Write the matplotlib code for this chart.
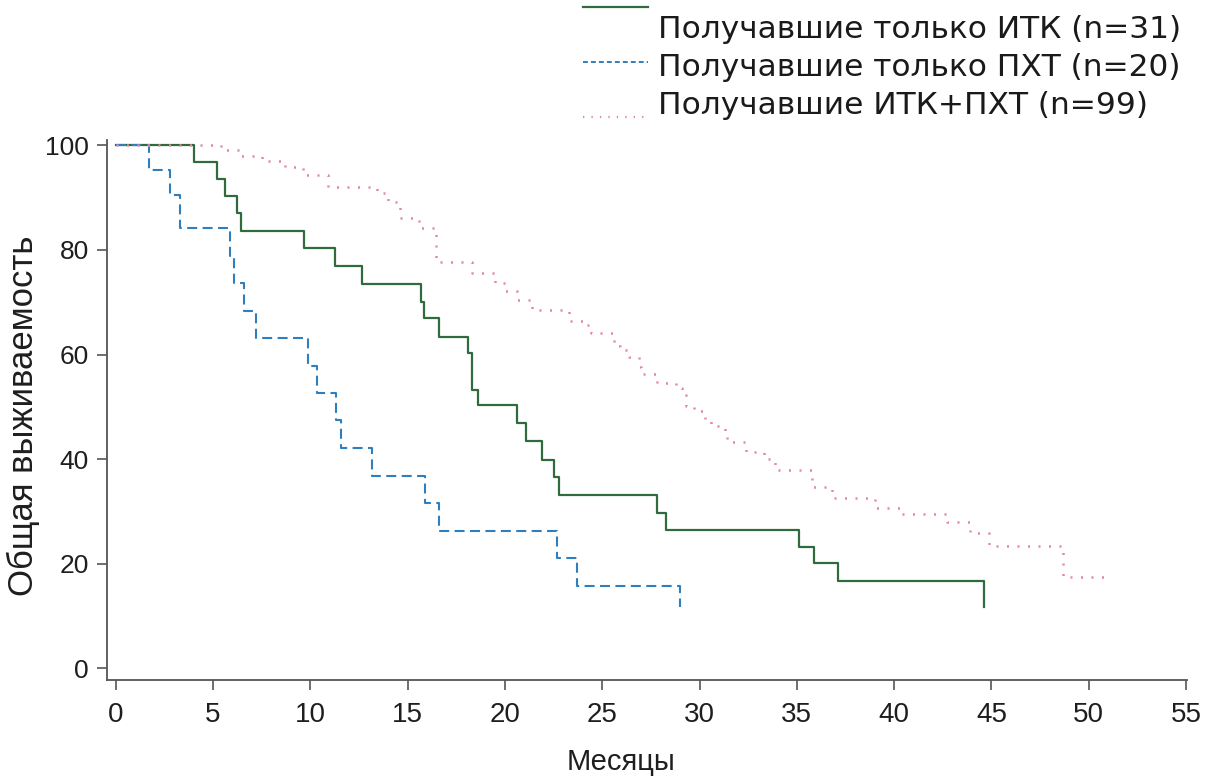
import matplotlib
matplotlib.use("Agg")
import matplotlib.pyplot as plt
from matplotlib.lines import Line2D

# ---- data ----
itk_t = [0, 4.0, 5.2, 5.6, 6.25, 6.45, 9.65, 11.25, 12.65, 15.7, 15.85, 16.6, 18.1, 18.3, 18.6,
         20.6, 21.1, 21.9, 22.5, 22.8, 27.8, 28.3, 35.1, 35.9, 37.1, 44.6]
itk_s = [100, 96.8, 93.5, 90.3, 87.1, 83.6, 80.4, 77.0, 73.4, 70.0, 66.9, 63.4, 60.2, 53.3, 50.3,
         46.9, 43.4, 39.8, 36.6, 33.2, 29.8, 26.4, 23.3, 20.1, 16.8, 11.7]

pxt_t = [0, 1.7, 2.8, 3.3, 5.85, 6.1, 6.6, 7.2, 9.9, 10.35, 11.3, 11.6, 13.15, 15.9, 16.6,
         22.7, 23.7, 29.0]
pxt_s = [100, 95.2, 90.5, 84.2, 78.9, 73.7, 68.4, 63.2, 57.9, 52.6, 47.4, 42.1, 36.8, 31.6, 26.3,
         21.1, 15.8, 11.7]

combo_t = [0, 5.4, 6.4, 7.5, 8.7, 9.6, 10.9, 13.4, 14.0, 14.6, 15.6, 16.45, 18.3, 19.5, 20.0,
           20.6, 21.4, 23.3, 24.2, 24.4, 25.6, 25.9, 26.4, 26.9, 27.0, 27.8, 28.8, 29.1, 29.3,
           29.7, 30.3, 30.6, 31.3, 31.4, 32.4, 33.3, 33.9, 35.8, 36.8, 39.0, 40.3, 42.7, 43.9,
           44.9, 48.7, 51.1]
combo_s = [100, 99.0, 98.0, 96.9, 95.8, 94.3, 92.0, 90.8, 89.2, 86.0, 84.2, 77.7, 75.6, 73.6, 72.1,
           70.5, 68.6, 66.5, 65.6, 64.1, 61.6, 60.8, 59.5, 57.6, 56.3, 54.6, 53.6, 52.3, 50.2,
           49.2, 47.6, 46.3, 44.6, 43.2, 41.4, 40.1, 37.9, 34.7, 32.6, 30.7, 29.6, 28.0, 25.9,
           23.5, 17.5, 17.5]

labels = ["Получавшие только ИТК (n=31)",
          "Получавшие только ПХТ (n=20)",
          "Получавшие ИТК+ПХТ (n=99)"]
xticks = [0, 5, 10, 15, 20, 25, 30, 35, 40, 45, 50, 55]
yticks = [0, 20, 40, 60, 80, 100]
xlabel = "Месяцы"
ylabel = "Общая выживаемость"

# ---- style ----
c_green = "#2f6b3d"
c_blue = "#2f7fbf"
c_pink = "#e08a9c"
axis_col = "#555555"
txt_col = "#1e1e1e"
sans = "Liberation Sans"

fig = plt.figure(figsize=(12.11, 7.79), dpi=100)
ax = fig.add_axes([107 / 1211, 1 - 680 / 779, 1080 / 1211, 540 / 779])

ax.step(itk_t, itk_s, where="post", color=c_green, lw=1.6)
ax.step(pxt_t, pxt_s, where="post", color=c_blue, lw=1.5, dashes=(4.8, 2.6))
ax.step(combo_t, combo_s, where="post", color=c_pink, lw=1.8, dashes=(0.8, 3.4))

ax.set_xlim(-0.45, 55.05)
ax.set_ylim(-2.2, 101)
ax.set_xticks(xticks)
ax.set_yticks(yticks)
for s in ["top", "right"]:
    ax.spines[s].set_visible(False)
for s in ["left", "bottom"]:
    ax.spines[s].set_color(axis_col)
    ax.spines[s].set_linewidth(1.3)
ax.tick_params(axis="both", colors=axis_col, width=1.2, length=7.5)
ax.tick_params(axis="x", labelsize=20, labelcolor=txt_col, pad=8.5)
ax.tick_params(axis="y", labelsize=19, labelcolor=txt_col, pad=5.5)
for lab in ax.get_xticklabels() + ax.get_yticklabels():
    lab.set_fontfamily(sans)

ax.set_xlabel(xlabel, fontsize=21, family=sans, color=txt_col)
ax.xaxis.set_label_coords(0.476, -0.125)
ax.set_ylabel(ylabel, fontsize=25, family=sans, color=txt_col)
ax.yaxis.set_label_coords(-0.062, 0.49)

# ---- legend (drawn in figure pixels) ----
W, H = 1211, 779
def fx(p): return p / W
def fy(p): return 1 - p / H

hx0, hx1 = 583, 648
handles = [(7, dict(color=c_green, lw=1.6)),
           (62, dict(color=c_blue, lw=1.4, dashes=(2.5, 1.6))),
           (117, dict(color=c_pink, lw=1.6, dashes=(0.6, 3.2)))]
for y, kw in handles:
    fig.add_artist(Line2D([fx(hx0), fx(hx1)], [fy(y), fy(y)], transform=fig.transFigure, **kw))
text_y = [30, 68, 106]
for y, t in zip(text_y, labels):
    fig.text(fx(658), fy(y), t, fontsize=22.5, family="DejaVu Sans", color="#1a1a1a",
             va="center", ha="left")

fig.savefig("out.png", dpi=100)
